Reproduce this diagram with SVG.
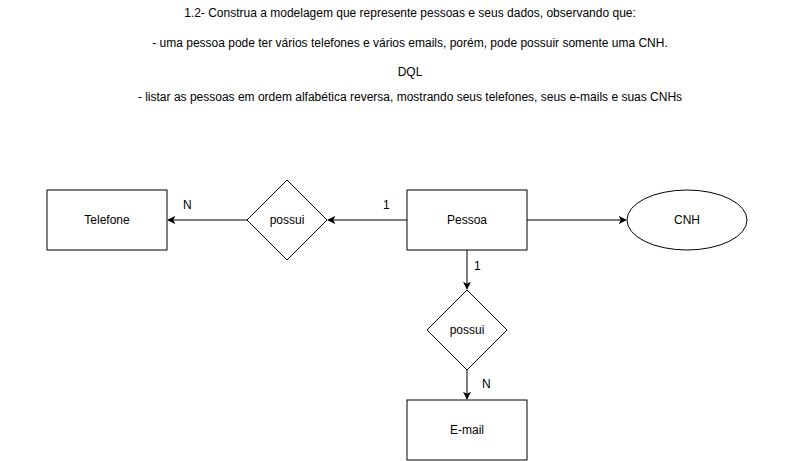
<svg xmlns="http://www.w3.org/2000/svg" width="810" height="461" viewBox="0 0 810 461">
<style>
text{font-family:"Liberation Sans",Arial,sans-serif;font-size:12px;fill:#000}
.c{text-anchor:middle}
.s{fill:#fff;stroke:#000;stroke-width:1}
.e{fill:none;stroke:#000;stroke-width:1}
</style>
<defs>
<marker id="a" viewBox="0 0 10 10" refX="9" refY="5" markerWidth="8" markerHeight="8" markerUnits="userSpaceOnUse" orient="auto">
<path d="M0,0 L10,5 L0,10 L2.5,5 Z" fill="#000"/>
</marker>
</defs>
<rect width="810" height="461" fill="#fff"/>
<g id="title">
<text class="c" x="410" y="17">1.2- Construa a modelagem que represente pessoas e seus dados, observando que:</text>
<text class="c" x="410" y="47">- uma pessoa pode ter vários telefones e vários emails, porém, pode possuir somente uma CNH.</text>
<text class="c" x="410" y="76">DQL</text>
<text class="c" x="410" y="101">- listar as pessoas em ordem alfabética reversa, mostrando seus telefones, seus e-mails e suas CNHs</text>
</g>
<g id="connectors">
<path class="e" d="M407,220 L328,220" marker-end="url(#a)"/>
<path class="e" d="M247,220 L168,220" marker-end="url(#a)"/>
<path class="e" d="M527,220 L626,220" marker-end="url(#a)"/>
<path class="e" d="M467,250 L467,289" marker-end="url(#a)"/>
<path class="e" d="M467,370 L467,399" marker-end="url(#a)"/>
<text x="383" y="209">1</text>
<text x="183" y="209">N</text>
<text x="474" y="270">1</text>
<text x="482" y="388">N</text>
</g>
<g id="telefone">
<rect class="s" x="47" y="190" width="120" height="60"/>
<text class="c" x="107" y="224">Telefone</text>
</g>
<g id="possui1">
<path class="s" d="M287,180 L327,220 L287,260 L247,220 Z"/>
<text class="c" x="287" y="224">possui</text>
</g>
<g id="pessoa">
<rect class="s" x="407" y="190" width="120" height="60"/>
<text class="c" x="467" y="224">Pessoa</text>
</g>
<g id="cnh">
<ellipse class="s" cx="687" cy="220" rx="60" ry="30"/>
<text class="c" x="687" y="224">CNH</text>
</g>
<g id="possui2">
<path class="s" d="M467,290 L507,330 L467,370 L427,330 Z"/>
<text class="c" x="467" y="334">possui</text>
</g>
<g id="email">
<rect class="s" x="407" y="400" width="120" height="60"/>
<text class="c" x="467" y="434">E-mail</text>
</g>
</svg>
